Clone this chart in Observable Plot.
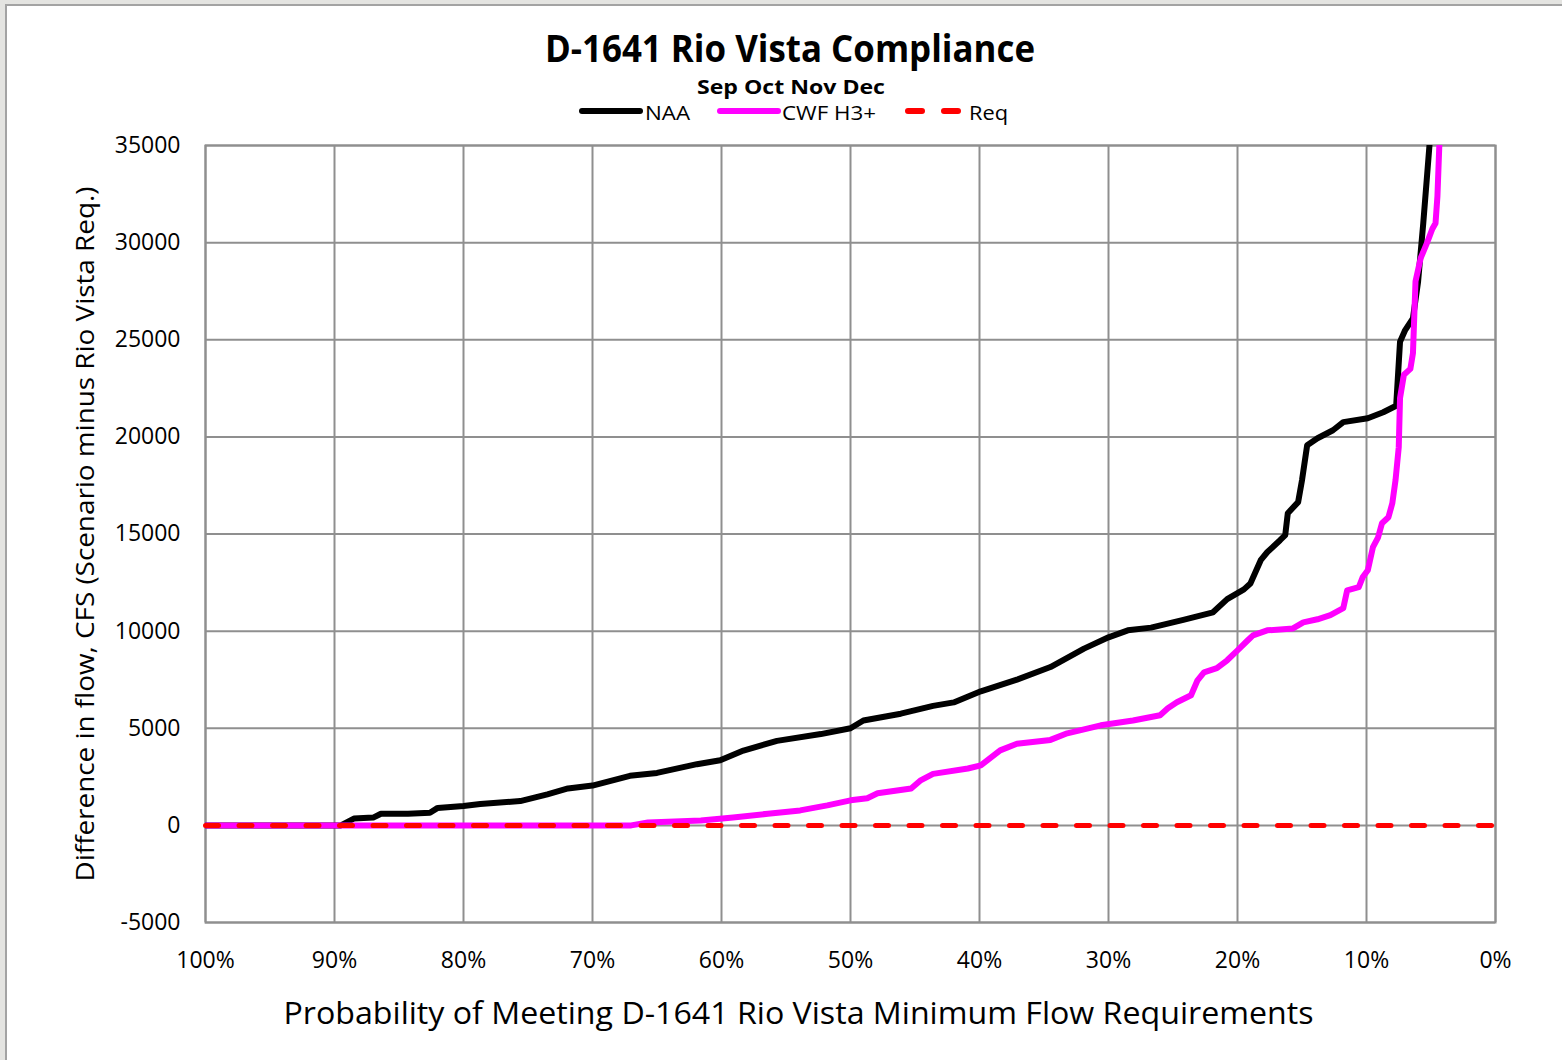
<!DOCTYPE html>
<html>
<head>
<meta charset="utf-8">
<script src="https://cdn.jsdelivr.net/npm/d3@7"></script>
<script src="https://cdn.jsdelivr.net/npm/@observablehq/plot@0.6"></script>
<style>
  html, body { margin: 0; padding: 0; width: 1562px; height: 1060px; overflow: hidden; background: #e4e4e1; }
  #frame { position: absolute; left: 5px; top: 4px; right: 0; bottom: 0; background: #fff; border-left: 2px solid #a3a3a3; border-top: 2px solid #a3a3a3; }
  #header { position: absolute; left: 0; top: 0; }
  #chart { position: absolute; left: 0; top: 125px; }
</style>
</head>
<body>
<div id="frame"></div>
<svg id="header" width="1562" height="130" font-family="Open Sans">
  <text x="790" y="62" text-anchor="middle" font-weight="bold" font-size="37" textLength="490" lengthAdjust="spacingAndGlyphs">D-1641 Rio Vista Compliance</text>
  <text x="791" y="94" text-anchor="middle" font-weight="bold" font-size="20" textLength="188" lengthAdjust="spacingAndGlyphs">Sep Oct Nov Dec</text>
  <line x1="582" x2="640" y1="111" y2="111" stroke="#000" stroke-width="6" stroke-linecap="round"></line>
  <text x="645" y="120" font-size="20" textLength="45" lengthAdjust="spacingAndGlyphs">NAA</text>
  <line x1="720" x2="778" y1="111" y2="111" stroke="#ff00ff" stroke-width="6" stroke-linecap="round"></line>
  <text x="782" y="120" font-size="20" textLength="94" lengthAdjust="spacingAndGlyphs">CWF H3+</text>
  <line x1="908" x2="962" y1="111" y2="111" stroke="#ff0000" stroke-width="6" stroke-linecap="round" stroke-dasharray="14,22"></line>
  <text x="969" y="120" font-size="20" textLength="39" lengthAdjust="spacingAndGlyphs">Req</text>
</svg>
<div id="chart"></div>
<script>
// Exceedance probability (%) and difference in flow (cfs)
const naaProb = [100, 90, 89.5, 88.5, 87.0, 86.4, 84.3, 82.6, 82.0, 80, 78.7, 75.6, 73.5, 71.9, 70, 67.1, 65.0, 61.9, 60.1, 58.3, 55.7, 52.3, 50, 49.0, 46.1, 43.6, 42.0, 39.9, 37.1, 34.5, 31.9, 30, 28.5, 26.7, 24.2, 21.9, 20.8, 19.5, 19.0, 18.2, 17.7, 16.7, 16.3, 16.1, 15.3, 15.0, 14.6, 13.8, 12.6, 11.8, 9.9, 8.7, 7.7, 7.4, 7.0, 6.4, 6.0, 5.8, 5.6, 5.3, 5.0];
const naaFlow = [0, 0, 0, 350, 400, 600, 600, 650, 900, 1000, 1100, 1250, 1600, 1900, 2050, 2550, 2700, 3150, 3350, 3850, 4350, 4700, 5000, 5400, 5750, 6150, 6330, 6900, 7500, 8150, 9100, 9680, 10040, 10180, 10580, 10970, 11650, 12150, 12450, 13650, 14060, 14680, 14940, 16070, 16640, 17770, 19570, 19930, 20340, 20760, 20960, 21270, 21600, 24900, 25500, 26100, 28000, 29500, 31000, 33500, 36000];

const cwfProb = [100, 67, 65.7, 61.6, 59.1, 56.4, 53.9, 51.8, 50, 48.7, 47.9, 45.3, 44.6, 43.6, 40.9, 39.9, 39.1, 38.4, 37.1, 34.5, 33.2, 30.6, 28.1, 26.0, 25.4, 24.7, 23.6, 23.1, 22.6, 21.6, 20.8, 20.0, 19.2, 18.8, 17.7, 15.7, 14.9, 13.8, 12.8, 11.8, 11.5, 10.6, 10.3, 9.9, 9.5, 9.1, 8.8, 8.3, 8.0, 7.75, 7.5, 7.4, 7.1, 6.6, 6.4, 6.2, 5.8, 5.3, 4.9, 4.65, 4.5, 4.3];
const cwfFlow = [0, 0, 150, 250, 400, 600, 770, 1030, 1290, 1400, 1650, 1900, 2300, 2650, 2930, 3090, 3500, 3860, 4200, 4400, 4740, 5150, 5400, 5670, 6030, 6340, 6700, 7470, 7880, 8090, 8500, 9010, 9530, 9780, 10040, 10140, 10450, 10610, 10820, 11180, 12100, 12260, 12770, 13130, 14320, 14830, 15550, 15860, 16580, 17770, 19470, 22000, 23200, 23500, 24300, 28000, 29200, 30000, 30700, 31000, 32400, 36000];

const reqProb = [100, 0];
const reqFlow = [0, 0];

const xTicks = [100, 90, 80, 70, 60, 50, 40, 30, 20, 10, 0];
const yTicks = [-5000, 0, 5000, 10000, 15000, 20000, 25000, 30000, 35000];

const xTitle = "Probability of Meeting D-1641 Rio Vista Minimum Flow Requirements";
const yTitle = "Difference in flow, CFS (Scenario minus Rio Vista Req.)";

const naa = naaProb.map((p, i) => ({p, v: naaFlow[i]}));
const cwf = cwfProb.map((p, i) => ({p, v: cwfFlow[i]}));
const req = reqProb.map((p, i) => ({p, v: reqFlow[i]}));

const gridColor = "#8f8f8f";

const plot = Plot.plot({
  width: 1562,
  height: 935,
  marginTop: 20,
  marginLeft: 205,
  marginRight: 67,
  marginBottom: 138,
  style: {fontFamily: "Open Sans", fontSize: "23px", color: "#000", background: "transparent", overflow: "visible"},
  x: {domain: [100, 0], label: null},
  y: {domain: [-5000, 35000], label: null},
  marks: [
    Plot.gridX(xTicks, {stroke: gridColor, strokeOpacity: 1, strokeWidth: 2}),
    Plot.gridY(yTicks, {stroke: gridColor, strokeOpacity: 1, strokeWidth: 2}),
    Plot.frame({stroke: gridColor, strokeWidth: 2}),
    Plot.line(naa, {x: "p", y: "v", stroke: "#000", strokeWidth: 6, strokeLinejoin: "round", clip: true}),
    Plot.line(cwf, {x: "p", y: "v", stroke: "#ff00ff", strokeWidth: 6, strokeLinejoin: "round", clip: true}),
    Plot.line(req, {x: "p", y: "v", stroke: "#ff0000", strokeWidth: 5, strokeDasharray: "13,20.5", strokeLinecap: "round"}),
    Plot.axisX(xTicks, {tickSize: 0, tickPadding: 29, tickFormat: d => d + "%", fontSize: 23, label: null}),
    Plot.axisY(yTicks, {tickSize: 0, tickPadding: 25, tickFormat: d => String(d), fontSize: 23, label: null}),
    Plot.text([xTitle], {text: d => d, frameAnchor: "bottom", textAnchor: "middle", dx: -52, dy: 101, fontSize: 31}),
    Plot.text([yTitle], {text: d => d, frameAnchor: "left", textAnchor: "middle", dx: -120, rotate: -90, fontSize: 26})
  ]
});
document.getElementById("chart").appendChild(plot);
d3.select(plot).selectAll("text").each(function () {
  const t = this.textContent;
  if (t === xTitle) d3.select(this).attr("textLength", 1030).attr("lengthAdjust", "spacingAndGlyphs");
  if (t === yTitle) d3.select(this).attr("textLength", 695).attr("lengthAdjust", "spacingAndGlyphs");
});
</script>
</body>
</html>
